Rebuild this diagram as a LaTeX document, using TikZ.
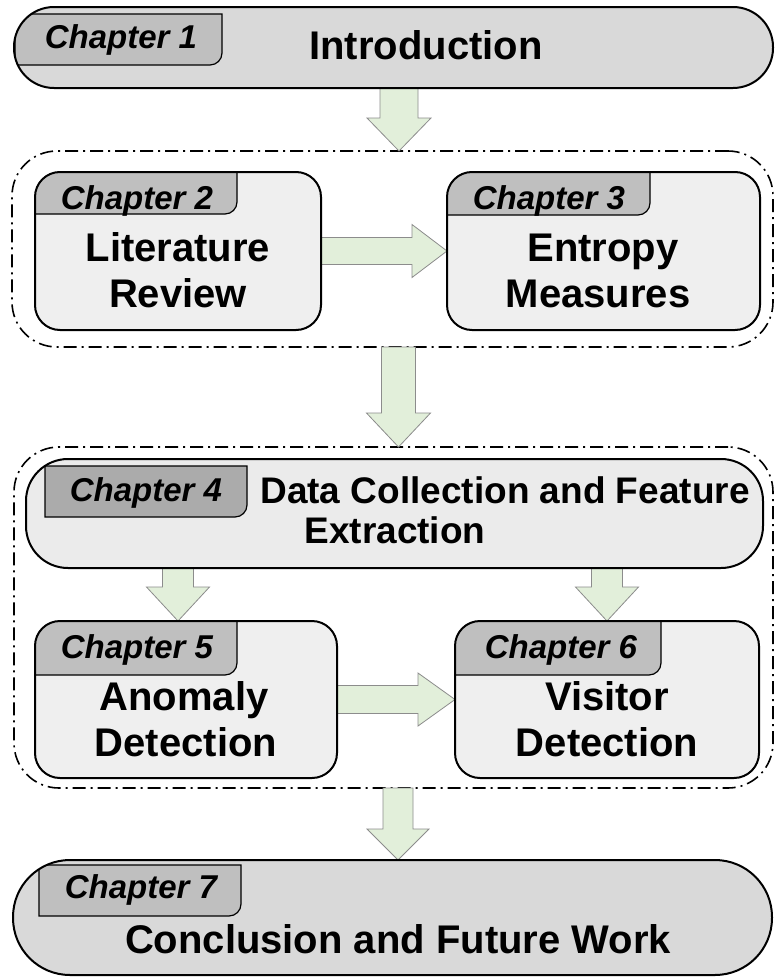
\documentclass[tikz,border=0pt]{standalone}
\usepackage{fontspec}
\setmainfont{Liberation Sans}
\usetikzlibrary{calc}

\definecolor{boxdark}{HTML}{D9D9D9}
\definecolor{boxlight}{HTML}{EFEFEF}
\definecolor{boxmid}{HTML}{EBEBEB}
\definecolor{tabgray}{HTML}{BFBFBF}
\definecolor{tabdeep}{HTML}{ABABAB}
\definecolor{arrowfill}{HTML}{E2EFDA}
\definecolor{arrowline}{HTML}{8C8C8C}

\tikzset{
  boxbody/.style={inner sep=0pt, outer sep=0pt},
  boxline/.style={draw=black, line width=2pt},
  tabshape/.style={draw=black, line width=1.2pt},
  groupbox/.style={draw=black, line width=1.6pt, inner sep=0pt, outer sep=0pt,
    dash pattern=on 13pt off 5pt on 2pt off 5pt},
  blockarrow/.style={fill=arrowfill, draw=arrowline, line width=0.8pt, line join=miter},
  chlabel/.style={anchor=base, inner sep=0pt, font=\fontsize{33}{36}\selectfont\bfseries\itshape},
  chtitle/.style={anchor=base, inner sep=0pt, font=\fontsize{40}{46}\selectfont\bfseries},
  chtitlesmall/.style={anchor=base, inner sep=0pt, font=\fontsize{37}{40}\selectfont\bfseries},
}

% grey chapter tab in the top left corner of a box, clipped to the box outline
% #1 box, #2 corner radius, #3..#6 tab corners, #7 tab colour
\newcommand{\chaptab}[7]{%
  \begin{scope}
    \clip[rounded corners=#2] (#1.north west) rectangle (#1.south east);
    \filldraw[tabshape, fill=#7] (#3,#4) -- (#5,#4) -- (#5,#6-12)
      .. controls (#5,#6-5.4) and (#5-5.4,#6) .. (#5-12,#6) -- (#3,#6) -- cycle;
  \end{scope}
  \draw[boxline, rounded corners=#2] (#1.north west) rectangle (#1.south east);}

% downward block arrow: #1 start, #2 tip (its y only), #3 half shaft, #4 half head, #5 head length
\newcommand{\vblock}[5]{%
  \path[blockarrow] let \p1=(#1), \p2=(#2) in
    (\x1-#3pt,\y1) -- (\x1+#3pt,\y1) -- (\x1+#3pt,\y2+#5pt) -- (\x1+#4pt,\y2+#5pt)
    -- (\x1,\y2) -- (\x1-#4pt,\y2+#5pt) -- (\x1-#3pt,\y2+#5pt) -- cycle;}

% rightward block arrow: #1 start, #2 tip (its x only)
\newcommand{\hblock}[5]{%
  \path[blockarrow] let \p1=(#1), \p2=(#2) in
    (\x1,\y1+#3pt) -- (\x2-#5pt,\y1+#3pt) -- (\x2-#5pt,\y1+#4pt) -- (\x2,\y1)
    -- (\x2-#5pt,\y1-#4pt) -- (\x2-#5pt,\y1-#3pt) -- (\x1,\y1-#3pt) -- cycle;}

\begin{document}
\begin{tikzpicture}[x=1pt, y=-1pt]
\useasboundingbox[fill=white] (0,0) rectangle (774,977);

% dash-dot groups
\node[groupbox, rounded corners=45pt, minimum width=761pt, minimum height=196pt] (g1) at (392.5,249) {};
\node[groupbox, rounded corners=45pt, minimum width=759pt, minimum height=341pt] (g2) at (393.5,617.5) {};

% chapter boxes (fill only; outlines are drawn with the tabs)
\node[boxbody, fill=boxdark, rounded corners=40pt, minimum width=759pt, minimum height=81pt] (ch1) at (393.5,47.5) {};
\node[boxbody, fill=boxlight, rounded corners=25pt, minimum width=286pt, minimum height=158pt] (ch2) at (178,251) {};
\node[boxbody, fill=boxlight, rounded corners=25pt, minimum width=313pt, minimum height=158pt] (ch3) at (603.5,251) {};
\node[boxbody, fill=boxmid, rounded corners=42pt, minimum width=737pt, minimum height=109pt] (ch4) at (394.5,513.5) {};
\node[boxbody, fill=boxlight, rounded corners=25pt, minimum width=302pt, minimum height=157pt] (ch5) at (186,699.5) {};
\node[boxbody, fill=boxlight, rounded corners=25pt, minimum width=304pt, minimum height=157pt] (ch6) at (607,699.5) {};
\node[boxbody, fill=boxdark, rounded corners=57pt, minimum width=759pt, minimum height=115pt] (ch7) at (392.5,917.5) {};

% connectors
\vblock{$(ch1.south)+(5.5,0)$}{g1.north}{19}{32}{33}
\hblock{ch2.east}{ch3.west}{13.5}{26.5}{35}
\vblock{$(g1.south)+(6,0)$}{g2.north}{17}{32}{34}
\vblock{$(ch4.south -| ch5.north)+(-8,0)$}{ch5.north}{15.5}{31.5}{34}
\vblock{ch4.south -| ch6.north}{ch6.north}{15.5}{31.5}{34}
\hblock{ch5.east}{ch6.west}{14}{26.5}{37}
\vblock{$(g2.south)+(4.5,0)$}{ch7.north}{15}{31}{31}

% tabs and outlines
\chaptab{ch1}{40pt}{15}{14}{222}{65}{tabgray}
\chaptab{ch2}{25pt}{25}{162}{237}{214}{tabgray}
\chaptab{ch3}{25pt}{437}{162}{650}{215}{tabgray}
\chaptab{ch4}{42pt}{45}{466}{247}{517}{tabdeep}
\chaptab{ch5}{25pt}{25}{611}{237}{675}{tabgray}
\chaptab{ch6}{25pt}{445}{611}{661}{675}{tabgray}
\chaptab{ch7}{57pt}{39}{865}{241}{916}{tabgray}

% texts
\node[chlabel] (l1) at (121,48) {Chapter 1};
\node[chtitle] (t1) at (426,59) {Introduction};

\node[chlabel] (l2) at (137,209) {Chapter 2};
\node[chtitle] (t2a) at (178,261) {Literature};
\node[chtitle] (t2b) at (178,307) {Review};

\node[chlabel] (l3) at (549,209) {Chapter 3};
\node[chtitle] (t3a) at (603,261) {Entropy};
\node[chtitle] (t3b) at (598,307) {Measures};

\node[chlabel] (l4) at (146,501) {Chapter 4};
\node[chtitlesmall] (t4a) at (505,503) {Data Collection and Feature};
\node[chtitlesmall] (t4b) at (395,543) {Extraction};

\node[chlabel] (l5) at (137,658) {Chapter 5};
\node[chtitle] (t5a) at (184,710) {Anomaly};
\node[chtitle] (t5b) at (186,756) {Detection};

\node[chlabel] (l6) at (561,658) {Chapter 6};
\node[chtitle] (t6a) at (607,710) {Visitor};
\node[chtitle] (t6b) at (607,756) {Detection};

\node[chlabel] (l7) at (141,898) {Chapter 7};
\node[chtitle] (t7) at (398,953) {Conclusion and Future Work};
\end{tikzpicture}
\end{document}
